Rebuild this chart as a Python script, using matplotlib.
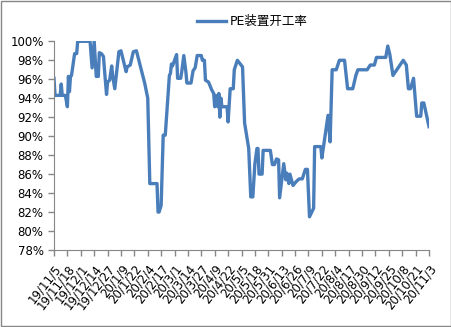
import matplotlib
matplotlib.use("Agg")
import matplotlib.pyplot as plt
import matplotlib.patches as mpatches
import pandas as pd
import numpy as np

plt.rcParams['font.family'] = ['DejaVu Sans', 'Noto Sans CJK SC']

series_name = "PE装置开工率"

dates = [
    "2019-11-05", "2019-11-06", "2019-11-11", "2019-11-12", "2019-11-13", "2019-11-16",
    "2019-11-18", "2019-11-19", "2019-11-20", "2019-11-21", "2019-11-22", "2019-11-25",
    "2019-11-27", "2019-11-28", "2019-12-10", "2019-12-12", "2019-12-14", "2019-12-16",
    "2019-12-18", "2019-12-19", "2019-12-21", "2019-12-23", "2019-12-24", "2019-12-26",
    "2019-12-27", "2019-12-29", "2019-12-31", "2020-01-01", "2020-01-03", "2020-01-05",
    "2020-01-07", "2020-01-09", "2020-01-14", "2020-01-15", "2020-01-18", "2020-01-21",
    "2020-01-24", "2020-02-01", "2020-02-04", "2020-02-06", "2020-02-13", "2020-02-14",
    "2020-02-15", "2020-02-17", "2020-02-19", "2020-02-21", "2020-02-25", "2020-02-26",
    "2020-02-27", "2020-02-28", "2020-03-03", "2020-03-04", "2020-03-07", "2020-03-08",
    "2020-03-10", "2020-03-12", "2020-03-13", "2020-03-17", "2020-03-19", "2020-03-21",
    "2020-03-23", "2020-03-27", "2020-03-28", "2020-03-30", "2020-03-31", "2020-04-03",
    "2020-04-06", "2020-04-08", "2020-04-09", "2020-04-10", "2020-04-12", "2020-04-13",
    "2020-04-14", "2020-04-15", "2020-04-16", "2020-04-21", "2020-04-22", "2020-04-24",
    "2020-04-27", "2020-04-28", "2020-05-01", "2020-05-06", "2020-05-08", "2020-05-12",
    "2020-05-14", "2020-05-16", "2020-05-18", "2020-05-20", "2020-05-21", "2020-05-22",
    "2020-05-25", "2020-05-26", "2020-06-02", "2020-06-04", "2020-06-06", "2020-06-08",
    "2020-06-10", "2020-06-11", "2020-06-15", "2020-06-17", "2020-06-18", "2020-06-20",
    "2020-06-21", "2020-06-24", "2020-06-27", "2020-06-30", "2020-07-03", "2020-07-06",
    "2020-07-08", "2020-07-10", "2020-07-14", "2020-07-15", "2020-07-21", "2020-07-22",
    "2020-07-28", "2020-07-30", "2020-08-01", "2020-08-05", "2020-08-08", "2020-08-13",
    "2020-08-16", "2020-08-21", "2020-08-24", "2020-08-26", "2020-09-04", "2020-09-07",
    "2020-09-11", "2020-09-13", "2020-09-22", "2020-09-24", "2020-09-26", "2020-09-29",
    "2020-10-09", "2020-10-12", "2020-10-14", "2020-10-16", "2020-10-19", "2020-10-22",
    "2020-10-26", "2020-10-27", "2020-10-29", "2020-11-03",
]
rates = [
    96.1, 94.3, 94.3, 95.5, 94.3, 94.3,
    93.1, 96.3, 94.7, 96.3, 96.4, 98.7,
    98.7, 100.0, 100.0, 97.2, 100.0, 96.3,
    96.3, 98.8, 98.7, 98.4, 97.0, 94.4,
    95.7, 95.9, 97.4, 96.3, 95.0, 97.0,
    98.9, 99.0, 96.8, 97.3, 97.5, 98.9,
    99.0, 95.6, 94.0, 85.0, 85.0, 82.0,
    82.0, 82.7, 90.1, 90.1, 96.4, 96.6,
    97.6, 97.4, 98.6, 96.1, 96.1, 96.8,
    98.5, 96.8, 95.6, 95.6, 96.9, 97.2,
    98.5, 98.5, 98.0, 98.0, 95.9, 95.7,
    94.9, 94.5, 93.1, 94.3, 93.1, 94.5,
    92.0, 94.0, 93.1, 93.1, 91.5, 95.0,
    95.0, 97.0, 98.0, 97.3, 91.4, 88.7,
    83.6, 83.6, 87.1, 88.7, 88.7, 86.0,
    86.0, 88.5, 88.5, 87.0, 87.0, 87.6,
    87.5, 83.5, 87.1, 85.4, 86.1, 85.0,
    86.0, 84.8, 85.2, 85.5, 85.5, 86.5,
    86.5, 81.5, 82.4, 88.9, 88.9, 87.7,
    92.2, 89.4, 97.0, 97.0, 98.0, 98.0,
    95.0, 95.0, 96.4, 97.0, 97.0, 97.5,
    97.5, 98.3, 98.3, 99.5, 98.6, 96.4,
    98.0, 97.5, 95.0, 95.0, 96.1, 92.1,
    92.1, 93.5, 93.5, 91.0,
]

start = pd.Timestamp("2019-11-05")
end = pd.Timestamp("2020-11-03")
tick_dates = pd.date_range(start, end, freq="13D")
tick_labels = [f"{d.year % 100}/{d.month}/{d.day}" for d in tick_dates]
y_ticks = list(range(78, 101, 2))

x = pd.to_datetime(dates)

fig = plt.figure(figsize=(4.52, 3.27), dpi=100)
ax = fig.add_axes([54 / 452, 1 - 250 / 327, 375 / 452, (250 - 41.3) / 327])

ax.plot(x, rates, color="#4A7EBB", lw=2.4, label=series_name, solid_joinstyle="round")

ax.set_xlim(start, end)
ax.set_ylim(78, 100)
ax.set_yticks(y_ticks)
ax.set_yticklabels([f"{v}%" for v in y_ticks], fontsize=8.5)
ax.set_xticks(tick_dates)
ax.set_xticklabels(tick_labels, fontsize=8.5, rotation=52, ha="right",
                   va="top", rotation_mode="anchor")

gray = "#868686"
for s in ["top", "right"]:
    ax.spines[s].set_visible(False)
for s in ["left", "bottom"]:
    ax.spines[s].set_color(gray)
ax.tick_params(axis="both", color=gray, length=4, width=1)
ax.tick_params(axis="x", pad=5)

fig.legend(loc="center", bbox_to_anchor=(0.559, 0.933), frameon=False,
           handlelength=2.3, handletextpad=0.3, fontsize=9)

fig.patches.append(mpatches.Rectangle((0.002, 0.003), 0.995, 0.993, transform=fig.transFigure,
                                      fill=False, edgecolor=gray, lw=1))

fig.savefig("out.png", dpi=100)
